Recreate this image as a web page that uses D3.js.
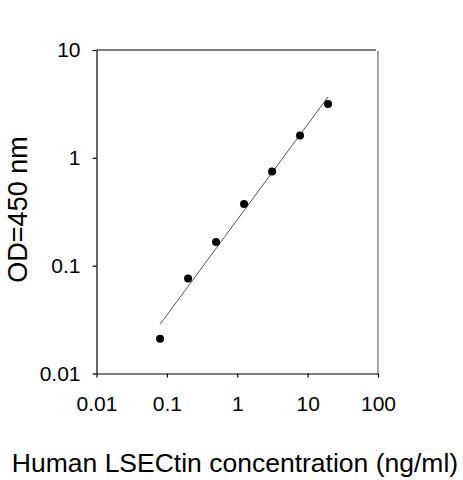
<!DOCTYPE html>
<html>
<head>
<meta charset="utf-8">
<script src="https://cdn.jsdelivr.net/npm/d3@7"></script>
<style>
  body { margin: 0; background: #fff; }
  svg { font-family: "Liberation Sans", Arial, sans-serif; }
</style>
</head>
<body>
<div id="chart"></div>
<script>
// Chart dimensions
var w = 463;
var h = 480;

// Data
var concentration = [0.08, 0.2, 0.5, 1.25, 3.125, 7.8, 19.5];
var odValue = [0.021, 0.076, 0.166, 0.374, 0.748, 1.61, 3.15];

// Fitted line end points
var fitX = [0.08, 19.5];
var fitY = [0.0286, 3.68];

var xTicks = [0.01, 0.1, 1, 10, 100];
var yTicks = [0.01, 0.1, 1, 10];

function main() {
  const xScale = d3.scaleLog()
    .domain([0.01, 100])
    .range([96.5, 378]);

  const yScale = d3.scaleLog()
    .domain([0.01, 10])
    .range([373.5, 50]);

  const svg = d3.select("#chart")
    .append("svg")
    .attr("width", w)
    .attr("height", h);

  // frame: top line black, right line gray
  svg.append("line")
    .attr("x1", xScale(0.01))
    .attr("x2", xScale(100) - 2)
    .attr("y1", yScale(10))
    .attr("y2", yScale(10))
    .attr("stroke", "#000")
    .attr("stroke-width", 1.2);

  svg.append("line")
    .attr("x1", xScale(100))
    .attr("x2", xScale(100))
    .attr("y1", yScale(10) + 1)
    .attr("y2", yScale(0.01))
    .attr("stroke", "#8a8a8a")
    .attr("stroke-width", 1.5);

  const xAxis = d3.axisBottom(xScale)
    .tickValues(xTicks)
    .tickFormat(d => String(d))
    .tickSizeInner(4)
    .tickSizeOuter(0)
    .tickPadding(19);

  const yAxis = d3.axisLeft(yScale)
    .tickValues(yTicks)
    .tickFormat(d => String(d))
    .tickSizeInner(4)
    .tickSizeOuter(0)
    .tickPadding(12);

  svg.append("g")
    .attr("class", "axis")
    .attr("transform", "translate(0," + yScale(0.01) + ")")
    .call(xAxis)
    .selectAll("text")
    .style("font-size", "21px")
    .attr("fill", "#000");

  svg.append("g")
    .attr("class", "axis")
    .attr("transform", "translate(" + xScale(0.01) + ",0)")
    .call(yAxis)
    .selectAll("text")
    .style("font-size", "21px")
    .attr("fill", "#000");

  svg.selectAll(".axis path, .axis line")
    .attr("stroke", "#000")
    .attr("stroke-width", 1.2);

  // fitted line
  const line = d3.line()
    .x((d, i) => xScale(d))
    .y((d, i) => yScale(fitY[i]));

  svg.append("path")
    .datum(fitX)
    .attr("fill", "none")
    .attr("stroke", "#555")
    .attr("stroke-width", 1)
    .attr("d", line);

  // data points
  svg.selectAll(".dot")
    .data(concentration)
    .enter()
    .append("circle")
    .attr("class", "dot")
    .attr("cx", d => xScale(d))
    .attr("cy", (d, i) => yScale(odValue[i]))
    .attr("r", 4)
    .attr("fill", "#000");

  // axis titles
  svg.append("text")
    .attr("x", 235)
    .attr("y", 472)
    .attr("text-anchor", "middle")
    .style("font-size", "26.5px")
    .text("Human LSECtin concentration (ng/ml)");

  svg.append("text")
    .attr("transform", "translate(27,209.5) rotate(-90)")
    .attr("text-anchor", "middle")
    .style("font-size", "27px")
    .text("OD=450 nm");
}

window.onload = function() {
  main();
};
</script>
</body>
</html>
